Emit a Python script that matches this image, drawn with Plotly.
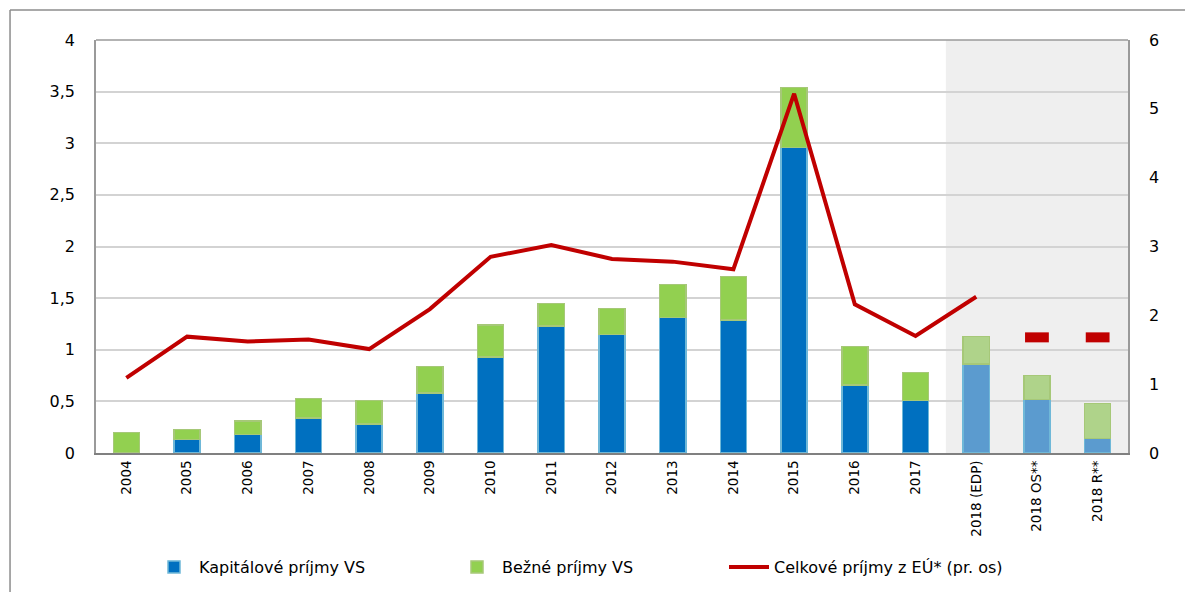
import plotly.graph_objects as go

categories = ["2004", "2005", "2006", "2007", "2008", "2009", "2010", "2011", "2012",
              "2013", "2014", "2015", "2016", "2017", "2018 (EDP)", "2018 OS**", "2018 R**"]
kapitalove = [0.0, 0.13, 0.18, 0.34, 0.28, 0.58, 0.93, 1.23, 1.15, 1.31, 1.29, 2.96, 0.66, 0.51, 0.86, 0.52, 0.14]
total_vs = [0.20, 0.23, 0.31, 0.53, 0.51, 0.84, 1.24, 1.45, 1.40, 1.63, 1.71, 3.54, 1.03, 0.78, 1.13, 0.75, 0.48]
bezne = [round(t - k, 2) for t, k in zip(total_vs, kapitalove)]
eu_line = [1.09, 1.69, 1.62, 1.65, 1.51, 2.09, 2.85, 3.02, 2.82, 2.78, 2.67, 5.22, 2.16, 1.70, 2.27, None, None]
eu_forecast = [None] * 15 + [1.68, 1.68]

n_hist = 14
blue_cols = ["#0070C0"] * n_hist + ["#5B9BCF"] * 3
green_cols = ["#92D050"] * n_hist + ["#AFD38A"] * 3

font = "DejaVu Sans, Verdana, sans-serif"

fig = go.Figure()
fig.add_trace(go.Bar(x=categories, y=kapitalove, name="Kapitálové príjmy VS",
                     marker=dict(color=blue_cols, line=dict(color="#6FB8D8", width=1.5)),
                     width=0.43, legend="legend"))
fig.add_trace(go.Bar(x=categories, y=bezne, name="Bežné príjmy VS",
                     marker=dict(color=green_cols, line=dict(color="#A6C878", width=1.5)),
                     width=0.43, legend="legend2"))
fig.add_trace(go.Scatter(x=categories, y=eu_line, name="Celkové príjmy z EÚ* (pr. os)",
                         yaxis="y2", mode="lines", line=dict(color="#C00000", width=4),
                         legend="legend3"))
fig.add_trace(go.Scatter(x=categories, y=eu_forecast, yaxis="y2", mode="markers", showlegend=False,
                         marker=dict(symbol="line-ew", size=17, line=dict(color="#C00000", width=10))))

fig.add_shape(type="rect", xref="x", yref="paper", x0=13.5, x1=16.5, y0=0, y1=1,
              fillcolor="#EFEFEF", line=dict(width=0), layer="below")
# outer frame
fig.add_shape(type="line", xref="paper", yref="paper", x0=-0.0833, x1=-0.0833, y0=1.0726, y1=-0.4,
              line=dict(color="#8C8C8C", width=1.5))
fig.add_shape(type="line", xref="paper", yref="paper", x0=-0.0833, x1=1.06, y0=1.0726, y1=1.0726,
              line=dict(color="#8C8C8C", width=1.5))
# top border of plot area
fig.add_shape(type="line", xref="paper", yref="paper", x0=0, x1=1, y0=1, y1=1,
              line=dict(color="#9A9A9A", width=1.5))

leg_common = dict(orientation="h", xanchor="left", yanchor="middle", yref="container",
                  y=(592 - 567) / 592, font=dict(size=16, family=font), bgcolor="rgba(0,0,0,0)",
                  itemwidth=40)
fig.update_layout(
    width=1185, height=592,
    margin=dict(l=96, r=57, t=40, b=139),
    paper_bgcolor="white", plot_bgcolor="white",
    barmode="stack", bargap=0.57,
    separators=", ",
    font=dict(family=font, size=16, color="#000000"),
    xaxis=dict(type="category", tickangle=-90, tickfont=dict(size=13.5), showgrid=False,
               showline=True, linecolor="#808080", linewidth=2, ticks="", automargin=False,
               range=[-0.5, 16.5]),
    yaxis=dict(range=[0, 4], dtick=0.5, showgrid=True, gridcolor="#D3D3D3", gridwidth=1.5,
               showline=True, linecolor="#9A9A9A", linewidth=1.5, ticks="", ticklabelstandoff=16,
               zeroline=False, automargin=False, tickfont=dict(size=16)),
    yaxis2=dict(range=[0, 6], dtick=1, overlaying="y", side="right", showgrid=False,
                showline=True, linecolor="#9A9A9A", linewidth=1.5, ticks="", ticklabelstandoff=16,
                zeroline=False, automargin=False, tickfont=dict(size=16)),
    legend=dict(x=(149 - 96) / 1032, **leg_common),
    legend2=dict(x=(452 - 96) / 1032, **leg_common),
    legend3=dict(x=(724 - 96) / 1032, **leg_common),
    showlegend=True,
)

fig.write_html("out.html", config={"displayModeBar": False},
               post_script="document.body.style.margin='0';")
